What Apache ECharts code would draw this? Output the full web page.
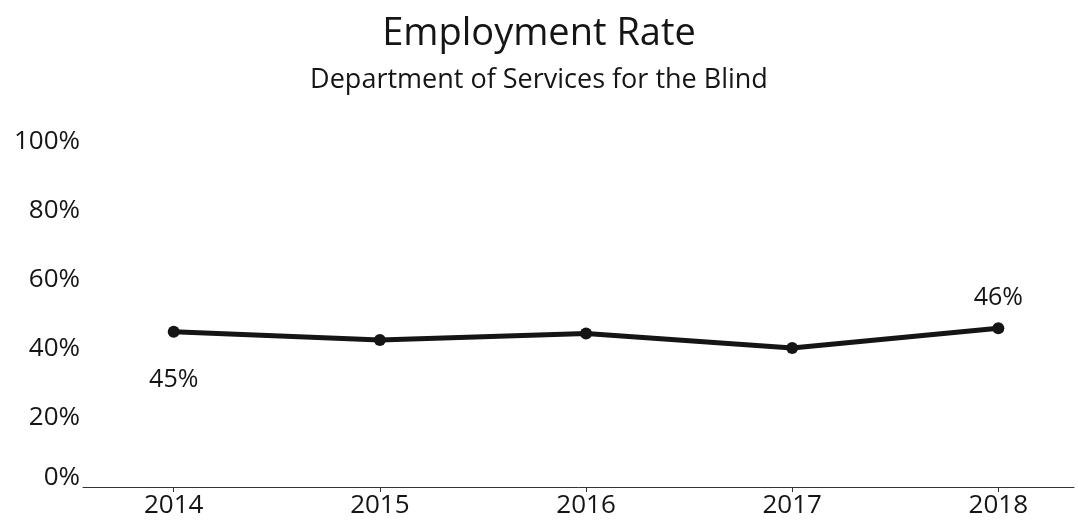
<!DOCTYPE html>
<html>
<head>
<meta charset="utf-8">
<title>Employment Rate</title>
<script src="https://cdn.jsdelivr.net/npm/echarts@6/dist/echarts.min.js"></script>
<style>
  html, body { margin: 0; padding: 0; background: #ffffff; }
  #chart { width: 1078px; height: 521px; }
</style>
</head>
<body>
<div id="chart"></div>
<script>
// Employment rate by year, Department of Services for the Blind
const years = [2014, 2015, 2016, 2017, 2018];
const rates = [45, 42.6, 44.5, 40.3, 46];
const yTicks = [0, 20, 40, 60, 80, 100];
// Only the first and last points carry a value label
const labelled = { 2014: 'bottom', 2018: 'top' };

const font = '"Open Sans", "Noto Sans", sans-serif';
const ink = '#151515';

const points = years.map((y, i) => {
  const p = { value: [y, rates[i]] };
  if (labelled[y]) {
    p.label = {
      show: true,
      position: labelled[y],
      distance: labelled[y] === 'bottom' ? 30 : 12,
      formatter: Math.round(rates[i]) + '%',
      fontFamily: font,
      fontSize: 25,
      color: ink
    };
  }
  return p;
});

const chart = echarts.init(document.getElementById('chart'), null, { renderer: 'canvas' });
chart.setOption({
  animation: false,
  backgroundColor: '#ffffff',
  title: {
    text: 'Employment Rate',
    subtext: 'Department of Services for the Blind',
    left: 'center',
    top: 10,
    itemGap: 14,
    textStyle: { fontFamily: font, fontSize: 38, fontWeight: 'normal', color: ink },
    subtextStyle: { fontFamily: font, fontSize: 27, color: ink }
  },
  grid: { left: 83, right: 4, top: 142, bottom: 34, containLabel: false },
  xAxis: {
    type: 'value',
    min: 2013.56,
    max: 2018.367,
    splitLine: { show: false },
    axisLine: { show: true, lineStyle: { color: '#333', width: 1 } },
    axisTick: { show: true, customValues: years, length: 5, lineStyle: { color: '#333' } },
    axisLabel: {
      customValues: years,
      formatter: v => String(v),
      fontFamily: font,
      fontSize: 26,
      color: ink,
      margin: 6
    }
  },
  yAxis: {
    type: 'value',
    min: 0,
    max: 100,
    interval: 20,
    splitLine: { show: false },
    axisLine: { show: false },
    axisTick: { show: false },
    axisLabel: {
      customValues: yTicks,
      formatter: v => v === 0 ? '{z|0%}' : v + '%',
      fontFamily: font,
      fontSize: 26,
      color: ink,
      margin: 3,
      rich: { z: { fontFamily: font, fontSize: 26, color: ink, padding: [0, 0, 18, 0] } }
    }
  },
  series: [{
    type: 'line',
    data: points,
    symbol: 'circle',
    symbolSize: 12,
    itemStyle: { color: ink },
    lineStyle: { color: ink, width: 5 }
  }]
});
</script>
</body>
</html>
